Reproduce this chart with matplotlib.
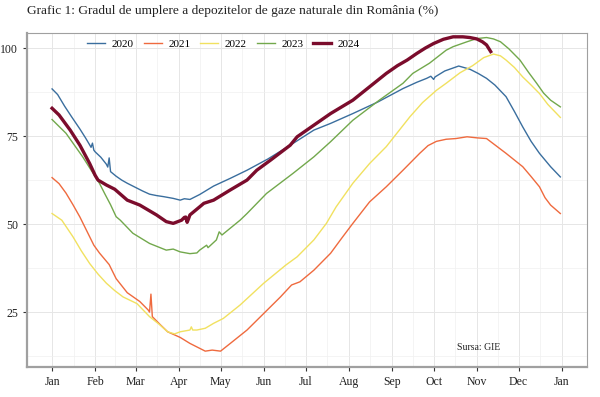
import matplotlib
matplotlib.use("Agg")
import matplotlib.pyplot as plt
from matplotlib.ticker import FixedLocator

# Day of year (0 = 1 Jan) and storage filling level (%)
d2020 = [0, 4, 9, 14, 20, 24, 27, 28, 29, 30, 31, 35, 39, 40, 41, 42, 46, 50, 54, 60, 65, 70, 75, 80,
         87, 92, 95, 99, 106, 116, 128, 140, 155, 171, 188, 200, 216, 234, 252, 262, 269, 272, 274,
         275, 282, 292, 300, 306, 312, 318, 326, 332, 338, 344, 350, 358, 365]
v2020 = [88.4, 86.8, 83.5, 80.5, 77.0, 74.5, 72.5, 71.8, 73.0, 71.0, 70.5, 69.0, 67.0, 66.2, 68.8,
         64.9, 63.6, 62.5, 61.6, 60.4, 59.4, 58.5, 58.1, 57.8, 57.3, 56.8, 57.2, 57.0, 58.4, 60.8,
         63.0, 65.3, 68.5, 72.4, 76.7, 78.6, 81.4, 84.7, 88.5, 90.3, 91.4, 92.0, 91.1, 91.8, 93.5,
         94.9, 94.0, 92.8, 91.4, 89.5, 86.2, 82.0, 77.6, 73.5, 70.1, 66.3, 63.4]

d2021 = [0, 5, 10, 15, 20, 25, 30, 34, 41, 46, 54, 63, 69, 70, 71, 72, 78, 83, 92, 99, 106, 110, 115,
         121, 128, 140, 152, 164, 172, 178, 188, 200, 208, 216, 228, 240, 252, 264, 270, 276, 283,
         290, 298, 305, 312, 318, 326, 332, 338, 344, 350, 354, 358, 365]
v2021 = [63.2, 61.5, 58.8, 55.5, 52.0, 48.0, 44.0, 41.8, 38.5, 34.5, 30.5, 28.0, 25.6, 25.0, 30.1,
         23.7, 21.3, 19.4, 17.8, 16.1, 14.7, 13.9, 14.2, 13.9, 16.1, 19.9, 24.6, 29.3, 32.7, 33.6,
         36.9, 41.7, 46.0, 50.2, 56.3, 60.6, 65.3, 70.1, 72.3, 73.5, 74.1, 74.3, 74.8, 74.5, 74.3,
         72.5, 70.1, 68.2, 66.3, 63.5, 60.6, 57.5, 55.4, 53.0]

d2022 = [0, 7, 15, 21, 27, 33, 39, 45, 51, 61, 70, 77, 83, 88, 92, 99, 100, 101, 104, 110, 116,
         123, 135, 152, 168, 176, 188, 197, 204, 216, 228, 240, 248, 257, 266, 276, 283, 293, 302,
         310, 317, 322, 326, 332, 338, 344, 350, 356, 365]
v2022 = [53.0, 51.1, 46.4, 42.4, 38.8, 35.8, 33.2, 31.1, 29.3, 27.4, 23.7, 21.5, 19.4, 18.8, 19.4,
         19.9, 20.8, 19.9, 19.9, 20.4, 21.8, 23.2, 27.0, 33.2, 38.4, 40.7, 45.5, 50.2, 54.9, 61.6,
         67.2, 72.0, 76.0, 80.5, 84.5, 88.0, 90.0, 93.0, 95.0, 97.3, 98.3, 97.8, 96.6, 94.5, 91.8,
         89.5, 87.1, 84.0, 80.3]

d2023 = [0, 10, 22, 34, 38, 42, 46, 49, 58, 70, 82, 87, 92, 99, 104, 106, 111, 112, 118, 120, 122,
         135, 140, 154, 173, 188, 200, 216, 235, 252, 259, 271, 283, 288, 298, 305, 312, 317, 322,
         328, 336, 342, 348, 353, 358, 365]
v2023 = [79.7, 75.8, 69.1, 61.6, 58.5, 55.5, 52.1, 51.1, 47.4, 44.5, 42.6, 42.9, 42.1, 41.6, 41.8,
         42.6, 44.0, 43.3, 45.5, 47.8, 46.9, 51.1, 53.0, 58.7, 64.4, 69.1, 73.4, 79.5, 85.2, 90.0,
         92.8, 95.7, 99.4, 100.4, 101.8, 102.7, 103.0, 102.6, 101.8, 99.8, 96.6, 93.2, 90.0, 87.2,
         85.2, 83.3]

d2024 = [0, 5, 13, 20, 27, 31, 33, 39, 45, 54, 63, 75, 82, 87, 93, 95, 96, 97, 98, 99, 106, 109,
         116, 128, 140, 147, 157, 171, 176, 188, 200, 216, 228, 240, 248, 255, 262, 268, 274, 281,
         288, 295, 300, 305, 309, 312, 315]
v2024 = [82.9, 81.0, 76.7, 72.4, 67.2, 63.8, 62.5, 61.1, 59.9, 56.8, 55.4, 52.6, 50.7, 50.2, 51.1,
         51.9, 52.0, 50.5, 51.5, 52.6, 54.9, 55.9, 56.8, 59.7, 62.5, 65.3, 68.2, 72.4, 74.8, 78.1,
         81.4, 85.2, 89.0, 92.8, 95.0, 96.6, 98.5, 100.0, 101.3, 102.5, 103.2, 103.2, 103.0, 102.6,
         101.8, 100.9, 99.0]

month_labels = ["Jan", "Feb", "Mar", "Apr", "May", "Jun", "Jul", "Aug", "Sep", "Oct", "Nov", "Dec", "Jan"]
month_starts = [0, 31, 60, 91, 121, 152, 182, 213, 244, 274, 305, 335, 366]
y_ticks = [25, 50, 75, 100]

series = [("2020", d2020, v2020, "#3a6e9e", 1.0),
          ("2021", d2021, v2021, "#ef6a3e", 1.0),
          ("2022", d2022, v2022, "#f1e160", 1.0),
          ("2023", d2023, v2023, "#72a84c", 1.0),
          ("2024", d2024, v2024, "#7b0c2c", 2.4)]

plt.rcParams["font.family"] = ["Liberation Serif", "DejaVu Serif"]

fig = plt.figure(figsize=(6.0, 3.97), dpi=100)
ax = fig.add_axes([0.045, 0.0756, 0.933, 0.8414])

for name, d, v, c, lw in series:
    ax.plot(d, v, color=c, lw=lw, label=name, solid_joinstyle="round", zorder=3)

ax.set_xlim(-18, 384)
ax.set_ylim(9.4, 104.3)
ax.xaxis.set_major_locator(FixedLocator(month_starts))
ax.set_xticklabels(month_labels)
minor_x = [(month_starts[i] + month_starts[i + 1]) / 2 for i in range(len(month_starts) - 1)]
ax.xaxis.set_minor_locator(FixedLocator(minor_x))
ax.yaxis.set_major_locator(FixedLocator(y_ticks))
ax.yaxis.set_minor_locator(FixedLocator([12.5, 37.5, 62.5, 87.5]))
ax.grid(which="major", color="#e6e6e6", lw=0.7, zorder=0)
ax.grid(which="minor", color="#f0f0f0", lw=0.5, zorder=0)
ax.set_axisbelow(True)
for s in ax.spines.values():
    s.set_color("#a0a0a0")
    s.set_linewidth(0.8)
ax.spines["left"].set_linewidth(1.6)
ax.spines["bottom"].set_linewidth(1.6)
ax.tick_params(axis="both", which="major", labelsize=8.5, colors="#333333", length=3, width=0.8,
               labelcolor="#222222")
ax.tick_params(axis="both", which="minor", length=0)

ax.legend(loc="upper left", bbox_to_anchor=(0.09, 1.01), ncol=5, frameon=False, fontsize=8,
          handlelength=1.6, handletextpad=0.6, columnspacing=0.9)

ax.text(306, 15.0, "Sursa: GIE", fontsize=7, ha="center", va="center", color="#222222")
fig.text(0.045, 0.972, "Grafic 1: Gradul de umplere a depozitelor de gaze naturale din România (%)",
         fontsize=9.6, ha="left", va="center", color="#222222")

fig.savefig("out.png", dpi=100)
